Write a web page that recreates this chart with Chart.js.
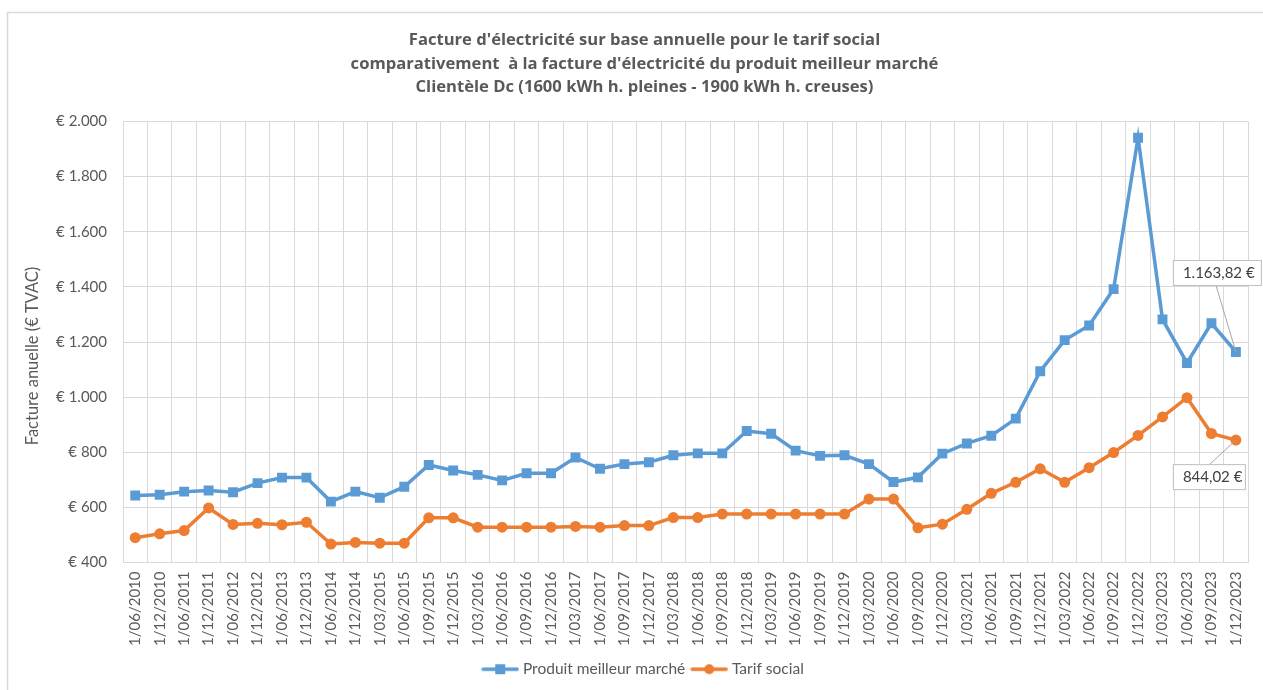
<!DOCTYPE html>
<html>
<head>
<meta charset="utf-8">
<script src="https://cdn.jsdelivr.net/npm/chart.js@4.4.1/dist/chart.umd.min.js"></script>
<style>
  html, body { margin: 0; padding: 0; background: #ffffff; }
  #wrap { position: absolute; left: 0; top: 0; width: 1263px; height: 690px; }
</style>
</head>
<body>
<div id="wrap"><canvas id="c" width="1263" height="690"></canvas></div>
<script>
const categories = [
  "1/06/2010","1/12/2010","1/06/2011","1/12/2011","1/06/2012","1/12/2012","1/06/2013","1/12/2013",
  "1/06/2014","1/12/2014","1/03/2015","1/06/2015","1/09/2015","1/12/2015","1/03/2016","1/06/2016",
  "1/09/2016","1/12/2016","1/03/2017","1/06/2017","1/09/2017","1/12/2017","1/03/2018","1/06/2018",
  "1/09/2018","1/12/2018","1/03/2019","1/06/2019","1/09/2019","1/12/2019","1/03/2020","1/06/2020",
  "1/09/2020","1/12/2020","1/03/2021","1/06/2021","1/09/2021","1/12/2021","1/03/2022","1/06/2022",
  "1/09/2022","1/12/2022","1/03/2023","1/06/2023","1/09/2023","1/12/2023"
];
const produitMeilleurMarche = [
  643, 646, 657, 661, 655, 688, 708, 708, 621, 657,
  635, 675, 754, 734, 718, 698, 724, 724, 781, 740,
  757, 764, 789, 796, 796, 877, 867, 806, 787, 789,
  757, 692, 709, 795, 832, 860, 922, 1094, 1207, 1260,
  1392, 1941, 1282, 1124, 1268, 1163.82
];
const tarifSocial = [
  490, 504, 516, 598, 538, 542, 537, 546, 467, 473,
  470, 470, 562, 562, 528, 528, 528, 528, 531, 528,
  534, 534, 563, 563, 576, 576, 576, 576, 576, 576,
  630, 630, 526, 539, 593, 651, 691, 740, 691, 744,
  799, 861, 928, 998, 868, 844.02
];
const titleLines = [
  "Facture d'électricité sur base annuelle pour le tarif social",
  "comparativement  à la facture d'électricité du produit meilleur marché",
  "Clientèle Dc (1600 kWh h. pleines - 1900 kWh h. creuses)"
];
const yAxisTitle = "Facture anuelle (€ TVAC)";
const seriesNames = ["Produit meilleur marché", "Tarif social"];

const BLUE = "#5B9BD5";
const ORANGE = "#ED7D31";
const TEXT = "#595959";
const FONT = "Lato, 'Liberation Sans', sans-serif";
const TITLE_FONT = "'Open Sans', Lato, sans-serif";

function fmtThousands(v) {
  return Math.round(v).toString().replace(/\B(?=(\d{3})+(?!\d))/g, ".");
}
function fmtEuro(v) {
  const parts = v.toFixed(2).split(".");
  return parts[0].replace(/\B(?=(\d{3})+(?!\d))/g, ".") + "," + parts[1] + " €";
}

function legendIcon(color, shape) {
  const cv = document.createElement("canvas");
  cv.width = 38; cv.height = 12;
  const g = cv.getContext("2d");
  g.strokeStyle = color; g.lineWidth = 3.5; g.lineCap = "round";
  g.beginPath(); g.moveTo(2, 6); g.lineTo(36, 6); g.stroke();
  g.fillStyle = color;
  if (shape === "rect") { g.fillRect(14, 1, 10, 10); }
  else { g.beginPath(); g.arc(19, 6, 5, 0, Math.PI * 2); g.fill(); }
  return cv;
}
const icons = [legendIcon(BLUE, "rect"), legendIcon(ORANGE, "circle")];

const borderPlugin = {
  id: "outerBorder",
  beforeDraw(chart) {
    const ctx = chart.ctx;
    ctx.save();
    ctx.fillStyle = "#ffffff";
    ctx.fillRect(0, 0, chart.width, chart.height);
    ctx.strokeStyle = "#d9d9d9";
    ctx.lineWidth = 1.5;
    ctx.strokeRect(7.5, 12.5, chart.width + 10, chart.height + 10);
    ctx.restore();
  }
};

const yTitlePlugin = {
  id: "yTitle",
  afterDraw(chart) {
    const ctx = chart.ctx;
    const a = chart.chartArea;
    ctx.save();
    ctx.translate(33, (a.top + a.bottom) / 2 + 14);
    ctx.rotate(-Math.PI / 2);
    ctx.fillStyle = TEXT;
    ctx.font = "16.5px " + FONT;
    ctx.textAlign = "center";
    ctx.textBaseline = "middle";
    ctx.fillText(yAxisTitle, 0, 0);
    ctx.restore();
  }
};

const calloutPlugin = {
  id: "callouts",
  afterDatasetsDraw(chart) {
    const ctx = chart.ctx;
    const specs = [
      { ds: 0, dx: -63, dy: -92, w: 88, anchor: "bottom" },
      { ds: 1, dx: -63, dy: 24, w: 72, anchor: "top" }
    ];
    ctx.save();
    specs.forEach(s => {
      const meta = chart.getDatasetMeta(s.ds);
      const idx = meta.data.length - 1;
      const pt = meta.data[idx];
      const val = chart.data.datasets[s.ds].data[idx];
      const bx = pt.x + s.dx, by = pt.y + s.dy, bh = 25;
      ctx.strokeStyle = "#a6a6a6";
      ctx.lineWidth = 1;
      ctx.beginPath();
      if (s.anchor === "bottom") { ctx.moveTo(bx + 43, by + bh); }
      else { ctx.moveTo(bx + 37, by); }
      ctx.lineTo(pt.x, pt.y);
      ctx.stroke();
      ctx.fillStyle = "#ffffff";
      ctx.fillRect(bx, by, s.w, bh);
      ctx.strokeStyle = "#bfbfbf";
      ctx.strokeRect(bx + 0.5, by + 0.5, s.w, bh);
      ctx.fillStyle = "#404040";
      ctx.font = "15px " + FONT;
      ctx.textBaseline = "middle";
      ctx.textAlign = "left";
      ctx.fillText(fmtEuro(val), bx + 10, by + bh / 2 + 1);
    });
    ctx.restore();
  }
};

new Chart(document.getElementById("c"), {
  type: "line",
  data: {
    labels: categories,
    datasets: [
      {
        label: seriesNames[0],
        data: produitMeilleurMarche,
        borderColor: BLUE,
        backgroundColor: BLUE,
        borderWidth: 3.5,
        pointStyle: "rect",
        pointRadius: 7,
        pointBorderWidth: 0,
        pointBackgroundColor: BLUE,
        tension: 0
      },
      {
        label: seriesNames[1],
        data: tarifSocial,
        borderColor: ORANGE,
        backgroundColor: ORANGE,
        borderWidth: 3.5,
        pointStyle: "circle",
        pointRadius: 5.5,
        pointBorderWidth: 0,
        pointBackgroundColor: ORANGE,
        tension: 0
      }
    ]
  },
  options: {
    responsive: false,
    animation: false,
    devicePixelRatio: 1,
    layout: { padding: { left: 36, right: 10, top: 0, bottom: 3 } },
    plugins: {
      title: {
        display: true,
        text: titleLines,
        color: TEXT,
        font: { family: TITLE_FONT, size: 16.6, weight: "bold", lineHeight: 1.416 },
        padding: { top: 29, bottom: 22 }
      },
      legend: {
        display: true,
        position: "bottom",
        labels: {
          color: TEXT,
          font: { family: FONT, size: 15.5 },
          usePointStyle: true,
          pointStyleWidth: 30,
          boxWidth: 30,
          padding: 9,
          generateLabels(chart) {
            return chart.data.datasets.map((d, i) => ({
              text: d.label,
              fillStyle: d.borderColor,
              strokeStyle: d.borderColor,
              lineWidth: 0,
              pointStyle: icons[i],
              datasetIndex: i,
              hidden: false,
              fontColor: TEXT
            }));
          }
        }
      },
      tooltip: { enabled: false }
    },
    scales: {
      x: {
        type: "category",
        offset: true,
        grid: { offset: true, color: "#d9d9d9", lineWidth: 1, drawTicks: false },
        border: { color: "#d9d9d9" },
        ticks: {
          color: TEXT,
          font: { family: FONT, size: 15 },
          minRotation: 90,
          maxRotation: 90,
          autoSkip: false,
          padding: 9
        },
        afterFit(scale) { scale.height = 90; }
      },
      y: {
        min: 400,
        max: 2000,
        ticks: {
          stepSize: 200,
          color: TEXT,
          font: { family: FONT, size: 15 },
          padding: 16,
          callback: (v) => "€ " + fmtThousands(v)
        },
        grid: { color: "#d9d9d9", lineWidth: 1, drawTicks: false },
        border: { color: "#d9d9d9" },
        title: { display: false },
        afterFit(scale) { scale.width = 87; }
      }
    }
  },
  plugins: [borderPlugin, yTitlePlugin, calloutPlugin]
});
</script>
</body>
</html>
